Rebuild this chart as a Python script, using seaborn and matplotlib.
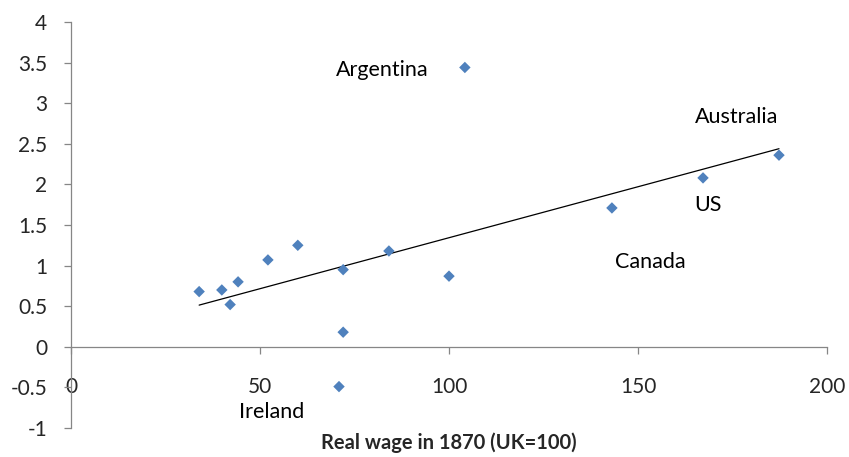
import numpy as np
import pandas as pd
import matplotlib
matplotlib.use("Agg")
import matplotlib.pyplot as plt
import seaborn as sns

# Data
wage_1870 = [33.9, 39.9, 42.1, 44.2, 52.1, 60.0, 72.0, 72.0, 70.9, 84.1, 100.0, 104.2, 143.1, 167.2, 187.3]
growth = [0.68, 0.70, 0.52, 0.80, 1.07, 1.25, 0.95, 0.18, -0.49, 1.18, 0.87, 3.44, 1.71, 2.08, 2.36]

label_names = ["Argentina", "Australia", "US", "Canada", "Ireland"]
label_x = [82.3, 176.2, 168.5, 153.2, 53.2]
label_y = [3.41, 2.83, 1.75, 1.05, -0.80]

x_ticks = [0, 50, 100, 150, 200]
y_ticks = [-1, -0.5, 0, 0.5, 1, 1.5, 2, 2.5, 3, 3.5, 4]
x_label = "Real wage in 1870 (UK=100)"

df = pd.DataFrame({"wage": wage_1870, "growth": growth})

sns.set_style("white")
plt.rcParams["font.family"] = ["Lato", "DejaVu Sans"]

fig = plt.figure(figsize=(8.49, 4.57), dpi=100)
ax = fig.add_axes([71 / 849, 1 - 428 / 457, (827 - 71) / 849, (428 - 22) / 457])

sns.scatterplot(data=df, x="wage", y="growth", marker="D", s=34, color="#4F81BD",
                edgecolor="none", ax=ax, zorder=3)
sns.regplot(data=df, x="wage", y="growth", scatter=False, ci=None, truncate=True,
            line_kws={"color": "black", "lw": 0.9}, ax=ax)

for name, lx, ly in zip(label_names, label_x, label_y):
    ax.text(lx, ly, name, ha="center", va="center", fontsize=15.5, color="black")

ax.set_xlim(0, 200)
ax.set_ylim(-1, 4)
ax.set_xticks(x_ticks)
ax.set_yticks(y_ticks)
ax.set_yticklabels([f"{v:g}" for v in y_ticks])
ax.set_xticklabels([f"{v:g}" for v in x_ticks])

spine_col = "#868686"
ax.spines["top"].set_visible(False)
ax.spines["right"].set_visible(False)
ax.spines["left"].set_color(spine_col)
ax.spines["bottom"].set_color(spine_col)
ax.spines["bottom"].set_position(("data", 0))
ax.spines["left"].set_linewidth(0.9)
ax.spines["bottom"].set_linewidth(0.9)

ax.tick_params(axis="y", direction="out", length=5, width=0.9, color=spine_col,
               labelsize=15, pad=12, left=True)
ax.tick_params(axis="x", direction="out", length=5, width=0.9, color=spine_col,
               labelsize=15, pad=17, bottom=True)

ax.set_xlabel(x_label, fontsize=14.5, fontweight="bold", va="center")
ax.set_ylabel("")
ax.xaxis.set_label_coords(0.5, -0.037)

fig.savefig("out.png", dpi=100)
